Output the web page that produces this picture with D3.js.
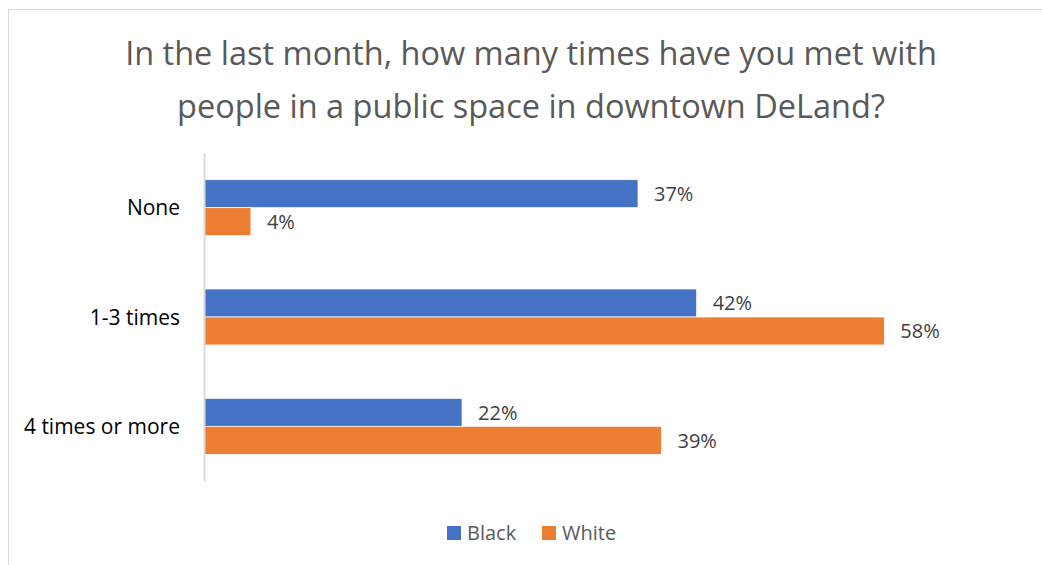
<!DOCTYPE html>
<html>
<head>
<meta charset="utf-8">
<script src="https://cdn.jsdelivr.net/npm/d3@7/dist/d3.min.js"></script>
<style>
  html, body { margin: 0; padding: 0; background: #fff; }
  svg { display: block; font-family: "Open Sans", "Noto Sans", sans-serif; }
</style>
</head>
<body>
<svg id="chart" width="1042" height="565"></svg>
<script>
// Survey responses by group
const categories = ["None", "1-3 times", "4 times or more"];
const seriesNames = ["Black", "White"];
const blackValues = [37, 42, 22];
const whiteValues = [4, 58, 39];
const titleLines = [
  "In the last month, how many times have you met with",
  "people in a public space in downtown DeLand?"
];

const colors = { Black: "#4472C4", White: "#ED7D31" };
const FONT = "'Open Sans', 'Noto Sans', sans-serif";

const svg = d3.select("#chart");
const W = 1042, H = 565;

// chart area frame
svg.append("rect")
  .attr("x", 8.5).attr("y", 9.5)
  .attr("width", W + 20).attr("height", H + 20)
  .attr("fill", "#fff")
  .attr("stroke", "#d9d9d9").attr("stroke-width", 1);

// title
svg.append("g").selectAll("text")
  .data(titleLines)
  .join("text")
  .attr("x", 531)
  .attr("y", (d, i) => 65 + i * 53)
  .attr("text-anchor", "middle")
  .attr("fill", "#595959")
  .attr("font-size", 32.5)
  .text(d => d);

const plot = { left: 204, top: 153, bottom: 481 };

const x = d3.scaleLinear().domain([0, 1]).range([plot.left, plot.left + 1173]);
const y = d3.scaleBand().domain(categories).range([plot.top, plot.bottom])
  .paddingInner(0.488).paddingOuter(0.244);
const ySub = d3.scaleBand().domain(seriesNames).range([0, y.bandwidth()]);

const rows = categories.map((c, i) => ({
  category: c,
  values: [
    { series: "Black", value: blackValues[i] },
    { series: "White", value: whiteValues[i] }
  ]
}));

const groups = svg.append("g").selectAll("g")
  .data(rows)
  .join("g")
  .attr("transform", d => `translate(0,${y(d.category)})`);

groups.selectAll("rect")
  .data(d => d.values)
  .join("rect")
  .attr("x", x(0))
  .attr("y", d => ySub(d.series))
  .attr("width", d => x(d.value / 100) - x(0))
  .attr("height", ySub.bandwidth())
  .attr("fill", d => colors[d.series])
  .attr("stroke", "#fff").attr("stroke-width", 0.75);

groups.selectAll("text")
  .data(d => d.values)
  .join("text")
  .attr("x", d => x(d.value / 100) + 16)
  .attr("y", d => ySub(d.series) + ySub.bandwidth() / 2)
  .attr("dy", "0.36em")
  .attr("fill", "#404040")
  .attr("font-size", 20)
  .text(d => d.value + "%");

// category axis
const yAxis = svg.append("g")
  .attr("transform", `translate(${plot.left},0)`)
  .call(d3.axisLeft(y).tickSize(0).tickPadding(24));
yAxis.select(".domain").attr("stroke", "#d9d9d9").attr("stroke-width", 2);
yAxis.selectAll(".tick text")
  .attr("font-family", FONT)
  .attr("font-size", 21)
  .attr("fill", "#000")
  .attr("dy", "0.36em");

// legend
const legendItems = [
  { name: "Black", x: 447 },
  { name: "White", x: 542 }
];
const legend = svg.append("g").selectAll("g")
  .data(legendItems)
  .join("g")
  .attr("transform", d => `translate(${d.x},526)`);
legend.append("rect")
  .attr("width", 14).attr("height", 14)
  .attr("fill", d => colors[d.name]);
legend.append("text")
  .attr("x", 20).attr("y", 7).attr("dy", "0.36em")
  .attr("fill", "#595959")
  .attr("font-size", 20)
  .text(d => d.name);
</script>
</body>
</html>
